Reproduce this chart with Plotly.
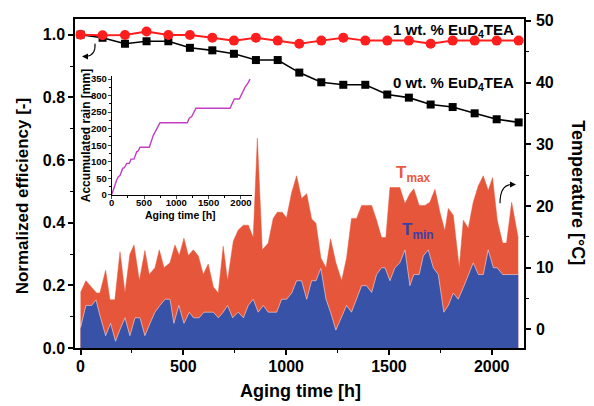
import plotly.graph_objects as go

# ---- data ---------------------------------------------------------------
# normalized efficiency of the two devices
eff_h = [0, 107, 216, 321, 427, 532, 641, 746, 853, 959, 1064, 1171, 1278,
         1385, 1492, 1597, 1703, 1810, 1917, 2024, 2131]
eff_1wt = [1.000, 0.998, 0.999, 1.010, 0.999, 0.999, 0.990, 0.981, 0.990,
           0.981, 0.971, 0.981, 0.990, 0.981, 0.981, 0.981, 0.971, 0.981,
           0.981, 0.981, 0.981]
eff_0wt = [1.000, 0.990, 0.971, 0.979, 0.979, 0.958, 0.950, 0.939, 0.919,
           0.919, 0.879, 0.848, 0.840, 0.840, 0.809, 0.799, 0.777, 0.769,
           0.749, 0.730, 0.720]

# daily maximum temperature [°C]
tmax_h = [0, 26, 78, 94, 122, 143, 167, 192, 216, 240, 260, 286, 313, 334,
          362, 383, 406, 435, 459, 480, 503, 524, 549, 573, 597, 621, 646,
          670, 694, 715, 743, 767, 792, 816, 840, 860, 884, 913, 937, 957,
          981, 1002, 1027, 1051, 1075, 1100, 1124, 1145, 1169, 1194, 1216,
          1242, 1270, 1294, 1318, 1343, 1367, 1416, 1440, 1464, 1485, 1505,
          1553, 1578, 1602, 1621, 1647, 1675, 1699, 1724, 1748, 1772, 1789,
          1813, 1842, 1862, 1886, 1910, 1935, 1959, 1983, 2004, 2027, 2053,
          2072, 2097, 2129]
tmax_c = [6.0, 7.9, 5.9, 5.9, 9.6, 4.8, 4.8, 12.6, 5.9, 12.2, 13.7, 7.9,
          12.8, 8.9, 10.0, 12.9, 10.0, 10.8, 13.7, 12.0, 14.8, 12.0, 12.9,
          11.9, 8.9, 10.6, 6.9, 5.9, 13.5, 7.9, 14.3, 16.1, 16.9, 16.9, 14.9,
          31.0, 12.9, 14.0, 18.0, 19.0, 19.0, 18.1, 22.2, 24.9, 21.2, 22.0,
          17.9, 17.2, 11.6, 10.0, 14.7, 10.8, 7.9, 11.6, 18.0, 18.0, 20.1,
          20.1, 17.7, 14.9, 14.9, 23.0, 23.0, 20.4, 22.0, 22.8, 20.1, 20.1,
          20.6, 22.7, 19.0, 16.0, 19.6, 18.5, 10.0, 17.7, 16.4, 20.6, 23.3,
          24.9, 22.5, 24.6, 17.7, 14.0, 14.0, 20.6, 14.8]

# daily minimum temperature [°C]
tmin_h = [0, 26, 54, 75, 94, 122, 146, 170, 192, 216, 240, 265, 289, 313,
          338, 362, 386, 411, 435, 454, 478, 503, 529, 549, 577, 600, 646,
          670, 694, 715, 740, 767, 792, 816, 840, 864, 889, 913, 954, 978,
          1002, 1027, 1051, 1075, 1100, 1124, 1145, 1169, 1194, 1216, 1242,
          1270, 1294, 1318, 1343, 1367, 1391, 1416, 1440, 1464, 1481, 1505,
          1529, 1553, 1578, 1602, 1621, 1647, 1667, 1691, 1716, 1740, 1767,
          1789, 1813, 1837, 1862, 1910, 1935, 1959, 1983, 2008, 2027, 2053,
          2129]
tmin_c = [0.3, 3.9, 3.9, 4.8, 2.3, -1.0, 1.0, -1.9, 0.0, 1.9, -1.0, 1.9,
          1.9, -1.0, 1.0, 2.8, 3.9, 4.9, 4.9, 1.0, 3.9, 1.0, 2.8, 1.9, 1.9,
          2.8, 2.8, 1.9, 2.8, 3.9, 1.9, 2.8, 1.9, 3.9, 4.9, 2.8, 3.9, 2.8,
          2.8, 4.9, 4.9, 5.9, 7.9, 7.9, 4.9, 7.9, 7.9, 9.9, 4.9, 2.8, -0.1,
          1.9, 3.9, 2.8, 4.9, 7.1, 7.1, 6.0, 8.9, 10.0, 10.0, 7.9, 10.0,
          10.8, 12.9, 7.1, 8.9, 8.9, 11.9, 12.9, 10.0, 8.9, 2.8, 3.9, 5.9,
          4.9, 6.8, 10.8, 8.9, 8.9, 12.9, 10.0, 10.0, 8.9, 8.9]

# accumulated rain (inset)
rain_h = [0, 36, 77, 103, 128, 170, 196, 232, 273, 299, 345, 387, 412, 438,
          582, 644, 748, 1170, 1201, 1238, 1305, 1831, 1898, 1975, 2063,
          2115, 2141]
rain_mm = [0, 25, 45, 55, 58, 80, 82, 95, 95, 108, 108, 130, 133, 144, 144,
           180, 218, 218, 232, 237, 262, 262, 290, 290, 325, 340, 350]

# ---- layout helpers -----------------------------------------------------
FIG_W, FIG_H = 594, 406
ML, MR, MT, MB = 75, 70, 14, 58
PW, PH = FIG_W - ML - MR, FIG_H - MT - MB
FONT = "Liberation Sans, Arial, sans-serif"
RED_AREA = "rgb(230,86,58)"
BLUE_AREA = "rgb(55,82,166)"
T_FLOOR = -10  # fill floor below the visible temperature range


def xp(x):
    return (x - ML) / PW


def yp(y):
    return (MT + PH - y) / PH


fig = go.Figure()

# temperature areas (base axes, drawn underneath)
fig.add_trace(go.Scatter(x=[tmax_h[0], tmax_h[-1]], y=[T_FLOOR, T_FLOOR],
                         mode="lines", line=dict(width=0), hoverinfo="skip",
                         showlegend=False))
fig.add_trace(go.Scatter(x=tmax_h, y=tmax_c, mode="lines", fill="tonexty",
                         fillcolor=RED_AREA, line=dict(color=RED_AREA, width=0.5),
                         showlegend=False))
fig.add_trace(go.Scatter(x=[tmin_h[0], tmin_h[-1]], y=[T_FLOOR, T_FLOOR],
                         mode="lines", line=dict(width=0), hoverinfo="skip",
                         showlegend=False))
fig.add_trace(go.Scatter(x=tmin_h, y=tmin_c, mode="lines", fill="tonexty",
                         fillcolor=BLUE_AREA,
                         line=dict(color="rgba(255,225,220,0.75)", width=0.8),
                         showlegend=False))

# efficiency curves (overlaid axis, on top)
fig.add_trace(go.Scatter(x=eff_h, y=eff_0wt, yaxis="y2", mode="lines+markers",
                         line=dict(color="black", width=1.6),
                         marker=dict(symbol="square", size=8, color="black"),
                         showlegend=False))
fig.add_trace(go.Scatter(x=eff_h, y=eff_1wt, yaxis="y2", mode="lines+markers",
                         line=dict(color="rgb(255,30,30)", width=2),
                         marker=dict(symbol="circle", size=10,
                                     color="rgb(255,30,30)"),
                         showlegend=False))

# inset: accumulated rain
fig.add_trace(go.Scatter(x=rain_h, y=rain_mm, xaxis="x3", yaxis="y3",
                         mode="lines", line=dict(color="rgb(195,60,195)", width=1.4),
                         showlegend=False))

tick_font = dict(family=FONT, size=16, color="black", weight="bold")
inset_font = dict(family=FONT, size=9.5, color="black", weight="bold")
axis_common = dict(showline=True, linecolor="black", linewidth=1.5,
                   ticks="outside", ticklen=5, tickwidth=1.5,
                   tickcolor="black", showgrid=False, zeroline=False,
                   tickfont=tick_font)

fig.update_layout(
    width=FIG_W, height=FIG_H,
    margin=dict(l=ML, r=MR, t=MT, b=MB),
    paper_bgcolor="white", plot_bgcolor="white",
    xaxis=dict(range=[-27, 2157], tick0=0, dtick=500, mirror=True,
               ticklabelstandoff=-2,
               minor=dict(ticks="outside", ticklen=3, tickwidth=1.2,
                          dtick=250, tickcolor="black"),
               **axis_common),
    yaxis=dict(range=[-3.0, 50.3], side="right", tick0=0, dtick=10,
               ticklabelstandoff=2,
               minor=dict(ticks="outside", ticklen=3, tickwidth=1.2,
                          dtick=5, tickcolor="black"),
               **axis_common),
    yaxis2=dict(range=[0, 1.05], side="left", overlaying="y", tick0=0,
                dtick=0.2, tickformat=".1f",
                minor=dict(ticks="outside", ticklen=3, tickwidth=1.2,
                           dtick=0.1, tickcolor="black"),
                **axis_common),
    xaxis3=dict(domain=[xp(111.7), xp(251.7)], anchor="y3", range=[0, 2167],
                tick0=0, dtick=500, showline=True, linecolor="black",
                linewidth=1, ticks="outside", ticklen=3, tickwidth=1,
                ticklabelstandoff=-4,
                minor=dict(ticks="outside", ticklen=2, dtick=250,
                           tickcolor="black"),
                showgrid=False, zeroline=False, tickfont=inset_font),
    yaxis3=dict(domain=[yp(192.5), yp(72)], anchor="x3", range=[0, 359],
                tick0=0, dtick=50, showline=True, linecolor="black",
                linewidth=1, ticks="outside", ticklen=3, tickwidth=1,
                ticklabelstandoff=-1,
                minor=dict(ticks="outside", ticklen=2, dtick=25,
                           tickcolor="black"),
                showgrid=False, zeroline=False, tickfont=inset_font),
)


def label(text, x, y, size, color="black", angle=0, xanchor="center",
          weight="bold"):
    fig.add_annotation(text=text, xref="paper", yref="paper", x=xp(x),
                       y=yp(y), xanchor=xanchor, yanchor="middle",
                       showarrow=False, textangle=angle,
                       font=dict(family=FONT, size=size, color=color,
                                 weight=weight))


# axis titles
label("Aging time [h]", 300, 392, 18)
label("Normalized efficiency [-]", 22, 194, 17, angle=-90)
label("Temperature [°C]", 578, 190, 18, angle=90)
label("Aging time [h]", 180, 213, 10.5)
label("Accumulated rain [mm]", 86, 133, 12, angle=-90)

# series labels
label("1 wt. % EuD<sub>4</sub>TEA", 516, 26, 15, xanchor="right")
label("0 wt. % EuD<sub>4</sub>TEA", 516, 79, 15, xanchor="right")
label("T<sub>max</sub>", 413, 171, 17, color="rgb(235,88,62)")
label("T<sub>min</sub>", 418, 229, 17, color="rgb(58,62,172)")


# curved pointer arrows (towards the left and right axes)
def curve(x0, y0, cx, cy, x1, y1):
    return (f"M {xp(x0)},{yp(y0)} Q {xp(cx)},{yp(cy)} {xp(x1)},{yp(y1)}")


for path in (curve(95, 39, 96, 51, 86, 52), curve(500, 201, 500, 183, 511, 182)):
    fig.add_shape(type="path", path=path, xref="paper", yref="paper",
                  line=dict(color="black", width=1.1))

for hx, hy, ax in ((82, 52, 5), (516, 182, -5)):
    fig.add_annotation(x=xp(hx), y=yp(hy), xref="paper", yref="paper",
                       text="", showarrow=True, ax=ax, ay=0, arrowhead=2,
                       arrowsize=1, arrowwidth=1.2, arrowcolor="black")

fig.write_html("out.html")
